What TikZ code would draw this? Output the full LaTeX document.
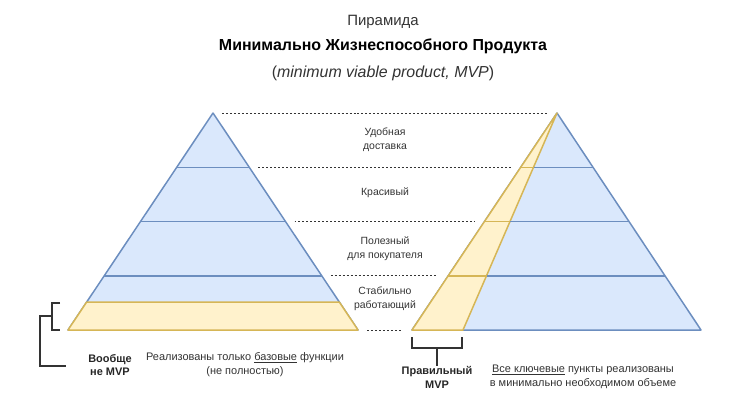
\documentclass[tikz,border=0pt]{standalone}
\usepackage{fontspec}
\setmainfont{Liberation Sans}
\usetikzlibrary{positioning}
\usetikzlibrary{calc}
\definecolor{layerblue}{HTML}{DAE8FC}
\definecolor{edgeblue}{HTML}{6C8EBF}
\definecolor{layeryellow}{HTML}{FFF2CC}
\definecolor{edgeyellow}{HTML}{D6B656}
\definecolor{inkgray}{HTML}{333333}
\tikzset{layer/.style = {fill=layerblue, draw=edgeblue, line width=1.5pt, line join=round}}
\tikzset{mvp/.style = {fill=layeryellow, draw=edgeyellow, line width=1.5pt, line join=round}}
\tikzset{guide/.style = {draw=inkgray, line width=0.7pt, dash pattern=on 2pt off 2pt}}
\tikzset{lbl/.style = {align=center, text=inkgray, inner sep=0, font=\fontsize{10.5}{14}\selectfont}}
\tikzset{note/.style = {lbl, font=\fontsize{11}{14}\selectfont}}
\tikzset{boldnote/.style = {note, text=black!85, font=\fontsize{11}{14}\selectfont\bfseries}}
\tikzset{brace/.style = {draw=inkgray, line width=1.3pt}}

\begin{document}
\begin{tikzpicture}[x=1bp, y=-1bp]
      \useasboundingbox (0, 0) rectangle (730, 409);
      \node [lbl, font=\fontsize{15}{18}\selectfont] (title) at (383, 22) {Пирамида};
      \node [lbl, font=\fontsize{16}{19}\selectfont\bfseries, text=black] (titlebold) at (383, 46)
            {Минимально Жизнеспособного Продукта};
      \node [lbl, font=\fontsize{16}{19}\selectfont] (titleeng) at (383, 73)
            {(\textit{minimum viable product, MVP})};

      \coordinate (lapex) at (213, 113);
      \coordinate (lbl) at (68, 330);
      \coordinate (lbr) at (358, 330);
      \coordinate (rapex) at (557, 113);
      \coordinate (rbl) at (412, 330);
      \coordinate (rbr) at (701, 330);
      \coordinate (rmid) at (463, 330);

      \draw [layer] (lapex) -- (lbr) -- (lbl) -- cycle;
      \foreach \f in {0.25, 0.5, 0.75}
        \draw [layer] ($(lapex)!\f!(lbl)$) -- ($(lapex)!\f!(lbr)$);
      \draw [mvp] ($(lapex)!0.871!(lbl)$) -- ($(lapex)!0.871!(lbr)$) -- (lbr) -- (lbl) -- cycle;

      \draw [layer] (rapex) -- (rbr) -- (rbl) -- cycle;
      \draw [mvp] (rapex) -- (rmid) -- (rbl) -- cycle;
      \foreach \f in {0.25, 0.5, 0.75} {
        \draw [mvp] ($(rapex)!\f!(rbl)$) -- ($(rapex)!\f!(rmid)$);
        \draw [layer] ($(rapex)!\f!(rmid)$) -- ($(rapex)!\f!(rbr)$);
      }

      \foreach \f in {0, 0.25, 0.5, 0.75, 1}
        \draw [guide] ($(lapex)!\f!(lbr) + (9, 0)$) -- ($(rapex)!\f!(rbl) + (-10, 0)$);

      \node [lbl] (delivery) at (385, 140) {Удобная\\доставка};
      \node [lbl] (pretty) at (385, 193) {Красивый};
      \node [lbl] (useful) at (385, 249) {Полезный\\для покупателя};
      \node [lbl] (stable) at (385, 299) {Стабильно\\работающий};

      \node [boldnote] (notmvp) at (110, 365) {Вообще\\не MVP};
      \node [note] (basic) at (245, 365) {Реализованы только \underline{базовые} функции\\(не полностью)};
      \node [boldnote] (rightmvp) at (437, 377) {Правильный\\MVP};
      \node [note] (keypoints) at (583, 377) {\underline{Все ключевые} пункты реализованы\\в минимально необходимом объеме};

      \draw [brace] (60, 303) -- (52, 303) -- (52, 330) -- (60, 330);
      \draw [brace] (52, 316) -- (40, 316) |- ($(notmvp.west) + (-22, 1)$);
      \draw [brace] (412, 337) -- (412, 348) -- (462, 348) -- (462, 337);
      \draw [brace] (437, 348) -- (rightmvp.north);
    \end{tikzpicture}
\end{document}
